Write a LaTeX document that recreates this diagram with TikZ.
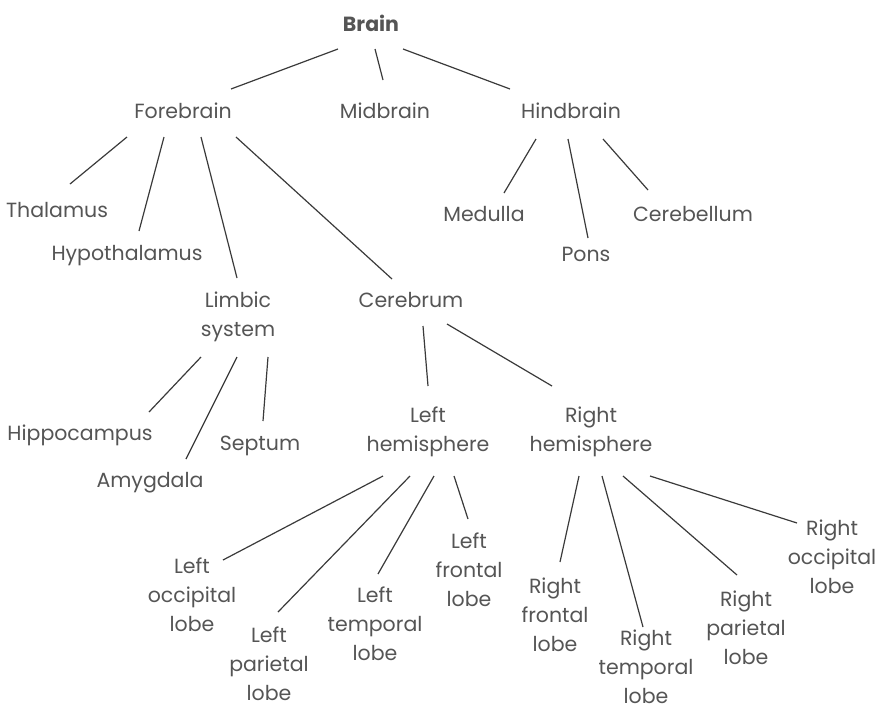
\documentclass[tikz,border=0pt]{standalone}
\usepackage{fontspec}
\setmainfont{Poppins}
\usepackage{tikz}
\usetikzlibrary{positioning}
\definecolor{txtgray}{HTML}{555555}
\definecolor{linegray}{HTML}{3A3A3A}

\begin{document}
\begin{tikzpicture}[x=1pt, y=-1pt,
    part/.style={text=txtgray, align=center, inner sep=0pt, font=\fontsize{20.5}{29}\selectfont},
    link/.style={draw=linegray, line width=1.2pt}]
    \useasboundingbox (0,0) rectangle (875,713);
    % top level
    \node[part, font=\fontsize{20.5}{29}\selectfont\bfseries] (brain) at (371,23) {Brain};
    \node[part] (fore) at (183,111) {Forebrain};
    \node[part] (mid) at (385,111) {Midbrain};
    \node[part] (hind) at (571,111) {Hindbrain};
    % forebrain parts
    \node[part] (thal) at (57,210) {Thalamus};
    \node[part] (hypo) at (127,256) {Hypothalamus};
    \node[part] (limbic) at (238,317) {Limbic\\system};
    \node[part] (cereb) at (411,300) {Cerebrum};
    % hindbrain parts
    \node[part] (medulla) at (484,214) {Medulla};
    \node[part] (pons) at (586,254) {Pons};
    \node[part] (cerebell) at (693,214) {Cerebellum};
    % limbic system
    \node[part] (hippo) at (80,435) {Hippocampus};
    \node[part] (amyg) at (150,483) {Amygdala};
    \node[part] (septum) at (260,446) {Septum};
    % hemispheres
    \node[part] (lhemi) at (428,432) {Left\\hemisphere};
    \node[part] (rhemi) at (591,432) {Right\\hemisphere};
    % lobes
    \node[part] (locc) at (192,595) {Left\\occipital\\lobe};
    \node[part] (lpar) at (269,664) {Left\\parietal\\lobe};
    \node[part] (ltemp) at (375,624) {Left\\temporal\\lobe};
    \node[part] (lfront) at (469,570) {Left\\frontal\\lobe};
    \node[part] (rfront) at (555,615) {Right\\frontal\\lobe};
    \node[part] (rtemp) at (646,667) {Right\\temporal\\lobe};
    \node[part] (rpar) at (746,628) {Right\\parietal\\lobe};
    \node[part] (rocc) at (832,557) {Right\\occipital\\lobe};

    \draw[link] ([shift={(-33,26)}]brain.center) -- ([shift={(48,-22)}]fore.center);
    \draw[link] ([shift={(4,26)}]brain.center) -- ([shift={(-2,-31)}]mid.center);
    \draw[link] ([shift={(32,26)}]brain.center) -- ([shift={(-61,-22)}]hind.center);

    \draw[link] ([shift={(-56,26)}]fore.center) -- ([shift={(13,-26)}]thal.center);
    \draw[link] ([shift={(-19,26)}]fore.center) -- ([shift={(12,-25)}]hypo.center);
    \draw[link] ([shift={(18,26)}]fore.center) -- ([shift={(-1,-39)}]limbic.center);
    \draw[link] ([shift={(53,26)}]fore.center) -- ([shift={(-19,-21)}]cereb.center);

    \draw[link] ([shift={(-35,28)}]hind.center) -- ([shift={(20,-21)}]medulla.center);
    \draw[link] ([shift={(-3,28)}]hind.center) -- ([shift={(2,-16)}]pons.center);
    \draw[link] ([shift={(32,28)}]hind.center) -- ([shift={(-45,-24)}]cerebell.center);

    \draw[link] ([shift={(-37,40)}]limbic.center) -- ([shift={(69,-23)}]hippo.center);
    \draw[link] ([shift={(-1,40)}]limbic.center) -- ([shift={(36,-24)}]amyg.center);
    \draw[link] ([shift={(30,40)}]limbic.center) -- ([shift={(3,-25)}]septum.center);

    \draw[link] ([shift={(12,26)}]cereb.center) -- ([shift={(0,-46)}]lhemi.center);
    \draw[link] ([shift={(36,24)}]cereb.center) -- ([shift={(-39,-46)}]rhemi.center);

    \draw[link] ([shift={(-45,44)}]lhemi.center) -- ([shift={(31,-35)}]locc.center);
    \draw[link] ([shift={(-18,44)}]lhemi.center) -- ([shift={(9,-52)}]lpar.center);
    \draw[link] ([shift={(6,44)}]lhemi.center) -- ([shift={(3,-50)}]ltemp.center);
    \draw[link] ([shift={(26,44)}]lhemi.center) -- ([shift={(-1,-51)}]lfront.center);

    \draw[link] ([shift={(-12,44)}]rhemi.center) -- ([shift={(5,-53)}]rfront.center);
    \draw[link] ([shift={(11,44)}]rhemi.center) -- ([shift={(-3,-40)}]rtemp.center);
    \draw[link] ([shift={(32,44)}]rhemi.center) -- ([shift={(-9,-53)}]rpar.center);
    \draw[link] ([shift={(59,44)}]rhemi.center) -- ([shift={(-35,-34)}]rocc.center);
\end{tikzpicture}
\end{document}
